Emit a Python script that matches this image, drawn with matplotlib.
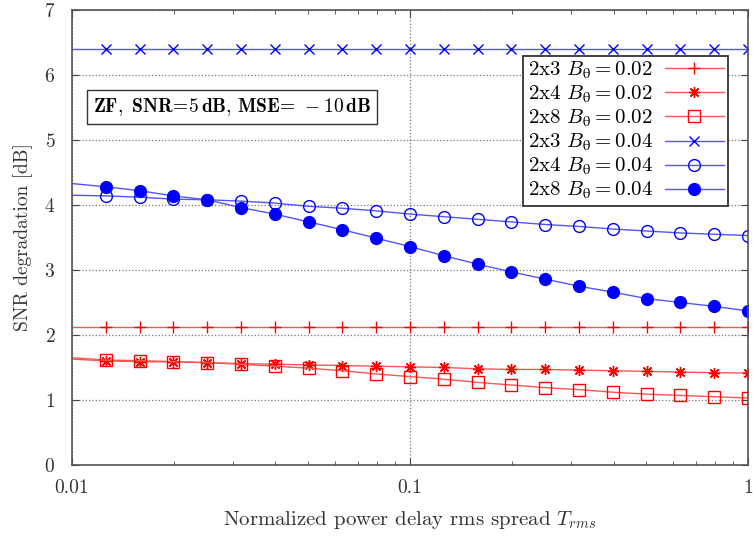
import numpy as np
import matplotlib.pyplot as plt
from matplotlib.ticker import LogLocator, NullFormatter

plt.rcParams['font.family'] = 'serif'
plt.rcParams['font.serif'] = ['cmr10', 'DejaVu Serif']
plt.rcParams['mathtext.fontset'] = 'cm'
plt.rcParams['axes.formatter.use_mathtext'] = True
plt.rcParams['font.size'] = 14

# delay spread sweep, 0.1 decade steps from 0.01 to 1
t_rms = 10 ** np.linspace(-2, 0, 21)

snr_2x3_002 = [2.12] * 21
snr_2x4_002 = [1.63, 1.60, 1.59, 1.585, 1.575, 1.56, 1.55, 1.54, 1.53, 1.52, 1.51,
               1.50, 1.48, 1.47, 1.47, 1.46, 1.45, 1.44, 1.43, 1.42, 1.415]
snr_2x8_002 = [1.65, 1.615, 1.605, 1.59, 1.575, 1.55, 1.52, 1.49, 1.45, 1.40, 1.36,
               1.32, 1.27, 1.23, 1.19, 1.16, 1.12, 1.09, 1.07, 1.05, 1.03]
snr_2x3_004 = [6.4] * 21
snr_2x4_004 = [4.15, 4.14, 4.12, 4.09, 4.08, 4.06, 4.03, 3.98, 3.95, 3.91, 3.86,
               3.82, 3.78, 3.74, 3.70, 3.67, 3.63, 3.60, 3.57, 3.55, 3.53]
snr_2x8_004 = [4.33, 4.28, 4.22, 4.14, 4.08, 3.96, 3.86, 3.74, 3.62, 3.49, 3.36,
               3.22, 3.09, 2.97, 2.86, 2.75, 2.66, 2.56, 2.50, 2.44, 2.37]

labels = [r'2x3 $B_{\mathrm{θ}} = 0.02$', r'2x4 $B_{\mathrm{θ}} = 0.02$',
          r'2x8 $B_{\mathrm{θ}} = 0.02$', r'2x3 $B_{\mathrm{θ}} = 0.04$',
          r'2x4 $B_{\mathrm{θ}} = 0.04$', r'2x8 $B_{\mathrm{θ}} = 0.04$']

red_line, red_mark = '#ff5555', '#ff0000'
blue_line, blue_mark = '#5555ff', '#0000ff'

fig = plt.figure(figsize=(7.53, 5.38), dpi=100)
ax = fig.add_axes([0.0956, 0.1357, 0.8978, 0.8457])

kw = dict(lw=1.0, markevery=slice(1, None))
ax.plot(t_rms, snr_2x3_002, color=red_line, marker='+', ms=8, mec=red_mark, mew=1.0,
        label=labels[0], **kw)
ax.plot(t_rms, snr_2x4_002, color=red_line, marker=(8, 2, 0), ms=8, mec=red_mark, mew=1.0,
        label=labels[1], **kw)
ax.plot(t_rms, snr_2x8_002, color=red_line, marker='s', ms=8, mec=red_mark, mfc='none',
        mew=1.0, label=labels[2], **kw)
ax.plot(t_rms, snr_2x3_004, color=blue_line, marker='x', ms=7, mec=blue_mark, mew=1.0,
        label=labels[3], **kw)
ax.plot(t_rms, snr_2x4_004, color=blue_line, marker='o', ms=8.5, mec=blue_mark, mfc='none',
        mew=1.0, label=labels[4], **kw)
ax.plot(t_rms, snr_2x8_004, color=blue_line, marker='o', ms=8.5, mec=blue_mark, mfc=blue_mark,
        label=labels[5], **kw)

ax.set_xscale('log')
ax.set_xlim(0.01, 1)
ax.set_ylim(0, 7)
ax.set_xticks([0.01, 0.1, 1])
ax.set_xticklabels(['0.01', '0.1', '1'])
ax.xaxis.set_minor_locator(LogLocator(base=10, subs=np.arange(2, 10)))
ax.xaxis.set_minor_formatter(NullFormatter())
ax.set_yticks(range(8))

ax.tick_params(which='both', direction='in', top=True, right=True, color='#444444',
               labelcolor='#333333')
ax.tick_params(which='major', length=5)
ax.tick_params(axis='x', which='major', pad=10)
ax.tick_params(axis='y', which='major', pad=12)
ax.tick_params(which='minor', length=3)
ax.grid(True, which='major', ls=':', color='#777777', lw=0.9)
for s in ax.spines.values():
    s.set_color('#555555')
    s.set_linewidth(1.2)

ax.set_xlabel(r'Normalized power delay rms spread $T_{rms}$', labelpad=9, color='#333333',
              fontsize=15)
ax.set_ylabel('SNR degradation [dB]', labelpad=8, color='#333333')

ax.text(0.031, 0.787, r'$\mathbf{ZF,\ SNR\!=\!5\,dB,\!\ MSE}\!=\,-10\,\mathbf{dB}$',
        transform=ax.transAxes, fontsize=14, va='center',
        bbox=dict(boxstyle='square,pad=0.3', fc='white', ec='#333333', lw=1.0))

leg = ax.legend(loc='upper right', bbox_to_anchor=(0.97, 0.9), markerfirst=False,
                fancybox=False, framealpha=1, edgecolor='#333333', fontsize=15,
                handlelength=2.8, borderpad=0.2, labelspacing=0.12, handletextpad=0.6,
                borderaxespad=0)
leg.get_frame().set_linewidth(1.3)

fig.savefig('out.png', dpi=100)
